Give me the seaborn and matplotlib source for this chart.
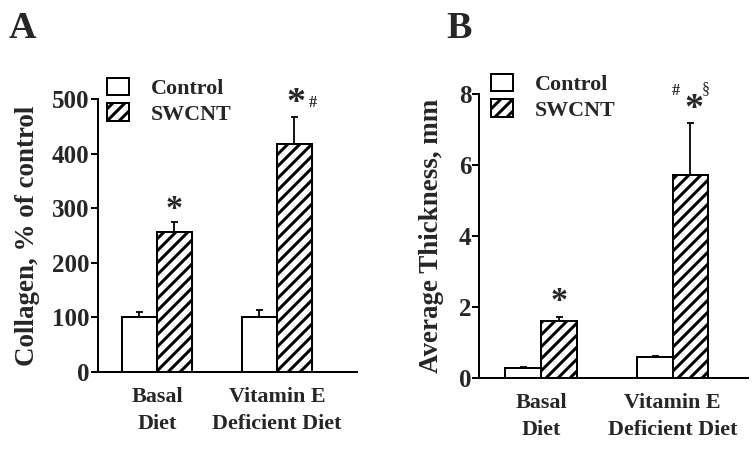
import numpy as np
import pandas as pd
import matplotlib
matplotlib.use("Agg")
import matplotlib.pyplot as plt
import seaborn as sns
from matplotlib.patches import Patch

categories = ["Basal\nDiet", "Vitamin E\nDeficient Diet"]
groups = ["Control", "SWCNT"]
collagen_control = [100, 100]
collagen_control_err = [10, 13]
collagen_swcnt = [256, 418]
collagen_swcnt_err = [19, 49]
thick_control = [0.27, 0.59]
thick_control_err = [0.03, 0.03]
thick_swcnt = [1.61, 5.72]
thick_swcnt_err = [0.11, 1.47]
collagen_ticks = [0, 100, 200, 300, 400, 500]
thick_ticks = [0, 2, 4, 6, 8]

sns.set_theme(style="ticks")
plt.rcParams["font.family"] = ["Liberation Serif", "DejaVu Serif"]
plt.rcParams["font.weight"] = "bold"
plt.rcParams["hatch.linewidth"] = 3.0
plt.rcParams["hatch.color"] = "black"

DPI = 72
fig = plt.figure(figsize=(756 / DPI, 449 / DPI), dpi=DPI)
W, H = 756, 449


def ax_rect(x0, y0, x1, y1):
    return [x0 / W, 1 - y1 / H, (x1 - x0) / W, (y1 - y0) / H]


axA = fig.add_axes(ax_rect(97.7, 99.3, 357, 371.7))
axB = fig.add_axes(ax_rect(479.3, 94, 748, 377.7))


def panel(ax, ctrl, ctrl_err, sw, sw_err, ylim, ticks, ylabel, width, xlim, lpad):
    df = pd.DataFrame({
        "diet": categories * 2,
        "group": [groups[0]] * 2 + [groups[1]] * 2,
        "value": list(ctrl) + list(sw),
    })
    sns.barplot(data=df, x="diet", y="value", hue="group", order=categories,
                hue_order=groups, palette=["white", "white"], edgecolor="black",
                linewidth=2, errorbar=None, width=width, legend=False,
                saturation=1, ax=ax)
    for p in ax.containers[1].patches:
        p.set_hatch("//")
    for cont, vals, errs in zip(ax.containers, [ctrl, sw], [ctrl_err, sw_err]):
        xs = [p.get_x() + p.get_width() / 2 for p in cont.patches]
        ax.errorbar(xs, vals, yerr=[np.zeros(len(errs)), errs], fmt="none",
                    ecolor="black", elinewidth=1.8, capsize=3.5, capthick=1.8,
                    zorder=1)
    ax.set_ylim(*ylim)
    ax.set_xlim(*xlim)
    ax.set_yticks(ticks)
    ax.set_yticklabels([str(t) for t in ticks], fontsize=25, fontweight="bold")
    ax.tick_params(axis="y", length=7, width=2, pad=1, color="black")
    ax.tick_params(axis="x", length=0, pad=15)
    for lab in ax.get_xticklabels():
        lab.set_fontsize(22)
        lab.set_fontweight("bold")
        lab.set_linespacing(1.5)
    ax.set_xlabel("")
    ax.set_ylabel(ylabel, fontsize=27, fontweight="bold", labelpad=lpad)
    sns.despine(ax=ax)
    for s in ["left", "bottom"]:
        ax.spines[s].set_linewidth(2)
        ax.spines[s].set_color("black")
    handles = [Patch(facecolor="white", edgecolor="black", linewidth=2),
               Patch(facecolor="white", edgecolor="black", linewidth=2, hatch="//")]
    return handles


hA = panel(axA, collagen_control, collagen_control_err, collagen_swcnt,
           collagen_swcnt_err, (0, 500), collagen_ticks,
           "Collagen, % of control", 0.583, (-0.494, 1.667), 12)
hB = panel(axB, thick_control, thick_control_err, thick_swcnt, thick_swcnt_err,
           (0, 8), thick_ticks, "Average Thickness, mm", 0.54, (-0.468, 1.572), 15)

for ax, h, (lx, ly) in [(axA, hA, (107, 77.5)), (axB, hB, (490.7, 73.5))]:
    fig.legend(h, groups, loc="upper left",
               bbox_to_anchor=(lx / W, 1 - ly / H), frameon=False,
               prop={"family": "Liberation Serif", "weight": "bold", "size": 22},
               handlelength=1.0, handleheight=0.86, handletextpad=1.0,
               labelspacing=0.2, borderpad=0, borderaxespad=0)

# significance marks
axA.text(0 + 0.583 / 4, 298, "*", ha="center", va="center", fontsize=34,
         fontweight="bold")
axA.text(1 + 0.583 / 4 + 0.01, 492, "*", ha="center", va="center", fontsize=38,
         fontweight="bold", clip_on=False)
axA.text(1 + 0.583 / 4 + 0.15, 493, "#", ha="center", va="center", fontsize=16,
         fontweight="bold", clip_on=False)
axB.text(0 + 0.54 / 4, 2.16, "*", ha="center", va="center", fontsize=34,
         fontweight="bold")
axB.text(1 + 0.54 / 4 + 0.03, 7.55, "*", ha="center", va="center", fontsize=38,
         fontweight="bold", clip_on=False)
axB.text(1 + 0.54 / 4 - 0.11, 8.08, "#", ha="center", va="center", fontsize=16,
         fontweight="bold", clip_on=False)
axB.text(1 + 0.54 / 4 + 0.12, 8.15, "§", ha="center", va="center", fontsize=16,
         fontweight="normal", clip_on=False)

fig.text(22.5 / W, 1 - 29 / H, "A", ha="center", va="center", fontsize=38,
         fontweight="bold")
fig.text(459 / W, 1 - 28.5 / H, "B", ha="center", va="center", fontsize=38,
         fontweight="bold")

fig.savefig("out.png", dpi=DPI)
